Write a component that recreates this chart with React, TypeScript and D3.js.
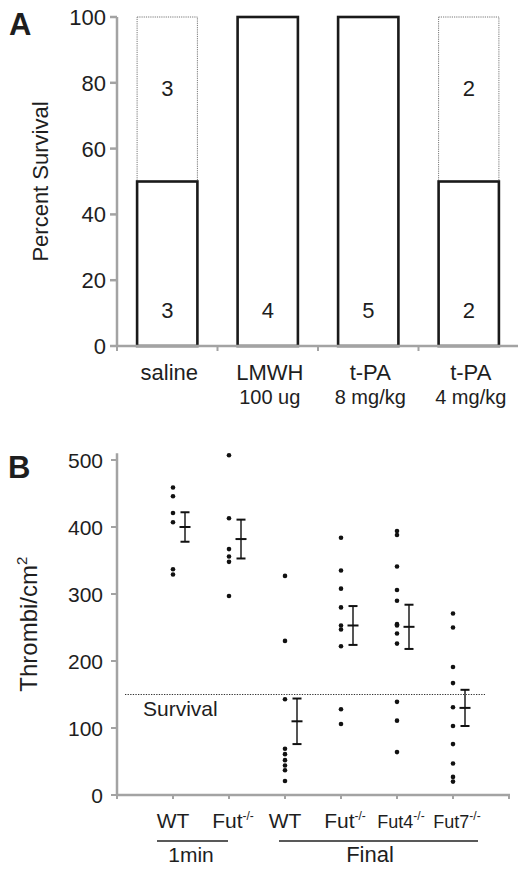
import React from 'react';
import * as d3 from 'd3';

// panel A
const treatments = ['saline', 'LMWH', 't-PA', 't-PA'];
const doses = ['', '100 ug', '8 mg/kg', '4 mg/kg'];
const survivedPct = [50, 100, 100, 50];
const nSurvived = [3, 4, 5, 2];
const nDied = [3, 0, 0, 2];
const pctTicks = [0, 20, 40, 60, 80, 100];

// panel B
const groupNames = ['WT', 'Fut', 'WT', 'Fut', 'Fut4', 'Fut7'];
const groupSup = ['', '-/-', '', '-/-', '-/-', '-/-'];
const wt1min = [459, 446, 421, 407, 337, 329];
const fut1min = [507, 413, 367, 356, 348, 297];
const wtFinal = [327, 230, 143, 69, 61, 52, 44, 37, 21];
const futFinal = [384, 335, 308, 280, 253, 247, 222, 128, 106];
const fut4Final = [394, 388, 341, 306, 290, 255, 253, 241, 226, 139, 111, 64];
const fut7Final = [271, 250, 191, 167, 131, 103, 76, 47, 27, 20];
const groupMeans = [400, 382, 110, 253, 251, 130];
const groupSem = [22, 29, 34, 29, 33, 27];
const thrombiTicks = [0, 100, 200, 300, 400, 500];
const survivalCutoff = 150;

const font = 'Liberation Sans, Arial, sans-serif';
const axisGrey = '#a3a3a3';
const ink = '#1e1e1e';

function T({ x, y, size, anchor = 'start', rot = false, bold = false, children }: any) {
  const tf = `translate(${x},${y})${rot ? ' rotate(-90)' : ''}`;
  return (
    <text transform={tf} textAnchor={anchor} fontSize={size} fontFamily={font} fontWeight={bold ? 'bold' : 'normal'} fill={ink}>
      {children}
    </text>
  );
}

function PanelA() {
  const x = d3.scaleBand<number>().domain(d3.range(treatments.length)).range([117, 519]).paddingInner(0.4).paddingOuter(0.2);
  const y = d3.scaleLinear().domain([0, 100]).range([346, 17]);
  const bw = x.bandwidth();
  const edges = d3.range(treatments.length + 1).map(i => 117 + i * x.step());
  return (
    <g>
      <T x={9} y={35} size={31} bold>A</T>
      <T x={48} y={y(50)} size={22} anchor="middle" rot>Percent Survival</T>
      {/* died part, dotted */}
      {survivedPct.map((s, i) => s < 100 ? (
        <rect key={'d' + i} x={x(i)} y={y(100)} width={bw} height={y(s) - y(100)} fill="white" stroke="#777" strokeWidth={1} strokeDasharray="1.2 1" />
      ) : null)}
      {survivedPct.map((s, i) => (
        <rect key={'s' + i} x={x(i)} y={y(s)} width={bw} height={y(0) - y(s)} fill="white" stroke="#1a1a1a" strokeWidth={2.6} />
      ))}
      {nSurvived.map((n, i) => (
        <T key={'ns' + i} x={x(i)! + bw / 2} y={y(8.5)} size={22} anchor="middle">{n}</T>
      ))}
      {nDied.map((n, i) => n > 0 ? (
        <T key={'nd' + i} x={x(i)! + bw / 2} y={y(76)} size={22} anchor="middle">{n}</T>
      ) : null)}
      {/* axes */}
      <line x1={117} x2={117} y1={y(100)} y2={y(0)} stroke={axisGrey} strokeWidth={2.5} />
      <line x1={116} x2={519} y1={y(0)} y2={y(0)} stroke={axisGrey} strokeWidth={2.5} />
      {pctTicks.map(t => (
        <g key={t}>
          <line x1={110} x2={117} y1={y(t)} y2={y(t)} stroke={axisGrey} strokeWidth={2.5} />
          <T x={106} y={y(t) + 8} size={22} anchor="end">{t}</T>
        </g>
      ))}
      {edges.map((e, i) => (
        <line key={i} x1={e} x2={e} y1={y(0)} y2={y(0) + 5} stroke={axisGrey} strokeWidth={2} />
      ))}
      {treatments.map((t, i) => (
        <T key={'t' + i} x={x(i)! + bw / 2 + 2} y={380} size={22} anchor="middle">{t}</T>
      ))}
      {doses.map((t, i) => (
        <T key={'g' + i} x={x(i)! + bw / 2 + 2} y={404} size={20} anchor="middle">{t}</T>
      ))}
    </g>
  );
}

function PanelB() {
  const x = d3.scaleLinear().domain([0, 7]).range([117, 509]);
  const y = d3.scaleLinear().domain([0, 500]).range([795, 460]);
  const groups = [wt1min, fut1min, wtFinal, futFinal, fut4Final, fut7Final];
  return (
    <g>
      <T x={8} y={478} size={31} bold>B</T>
      <T x={37} y={y(255)} size={24} anchor="middle" rot>
        Thrombi/cm<tspan fontSize={15} dy={-10}>2</tspan>
      </T>
      <line x1={117} x2={117} y1={y(510)} y2={y(0)} stroke={axisGrey} strokeWidth={2.5} />
      <line x1={116} x2={510} y1={y(0)} y2={y(0)} stroke={axisGrey} strokeWidth={2.5} />
      {thrombiTicks.map(t => (
        <g key={t}>
          <line x1={111} x2={117} y1={y(t)} y2={y(t)} stroke={axisGrey} strokeWidth={2} />
          <T x={103} y={y(t) + 8} size={21} anchor="end">{t}</T>
        </g>
      ))}
      {d3.range(8).map(i => (
        <line key={i} x1={x(i)} x2={x(i)} y1={y(0)} y2={y(0) + 4} stroke={axisGrey} strokeWidth={2} />
      ))}
      <line x1={125} x2={485} y1={y(survivalCutoff)} y2={y(survivalCutoff)} stroke="#333" strokeWidth={1} strokeDasharray="1.3 1.3" />
      <T x={143} y={716} size={21}>Survival</T>
      {groups.map((g, gi) => g.map((v, i) => (
        <circle key={gi + '-' + i} cx={x(gi + 1)} cy={y(v)} r={2.3} fill="#111" />
      )))}
      {groupMeans.map((m, i) => {
        const cx = x(i + 1) + 12;
        return (
          <g key={'e' + i}>
            <line x1={cx} x2={cx} y1={y(m + groupSem[i])} y2={y(m - groupSem[i])} stroke="#555" strokeWidth={2} />
            <line x1={cx - 4.5} x2={cx + 4.5} y1={y(m + groupSem[i])} y2={y(m + groupSem[i])} stroke="#111" strokeWidth={2} />
            <line x1={cx - 4.5} x2={cx + 4.5} y1={y(m - groupSem[i])} y2={y(m - groupSem[i])} stroke="#111" strokeWidth={2} />
            <line x1={cx - 5.5} x2={cx + 5.5} y1={y(m)} y2={y(m)} stroke="#111" strokeWidth={2} />
          </g>
        );
      })}
      {groupNames.map((n, i) => (
        <T key={'n' + i} x={x(i + 1) + (groupSup[i] ? 4 : 0)} y={828} size={i >= 4 ? 18 : 21} anchor="middle">
          {n}<tspan fontSize={12} dy={-8}>{groupSup[i]}</tspan>
        </T>
      ))}
      <line x1={157} x2={228} y1={841} y2={841} stroke="#222" strokeWidth={1.5} />
      <line x1={279} x2={478} y1={841} y2={841} stroke="#222" strokeWidth={1.5} />
      <T x={191} y={862} size={21} anchor="middle">1min</T>
      <T x={370} y={862} size={22} anchor="middle">Final</T>
    </g>
  );
}

export default function App() {
  return (
    <svg width={518} height={869} style={{ position: 'absolute', left: 0, top: 0, background: 'white' }}>
      <PanelA />
      <PanelB />
    </svg>
  );
}
